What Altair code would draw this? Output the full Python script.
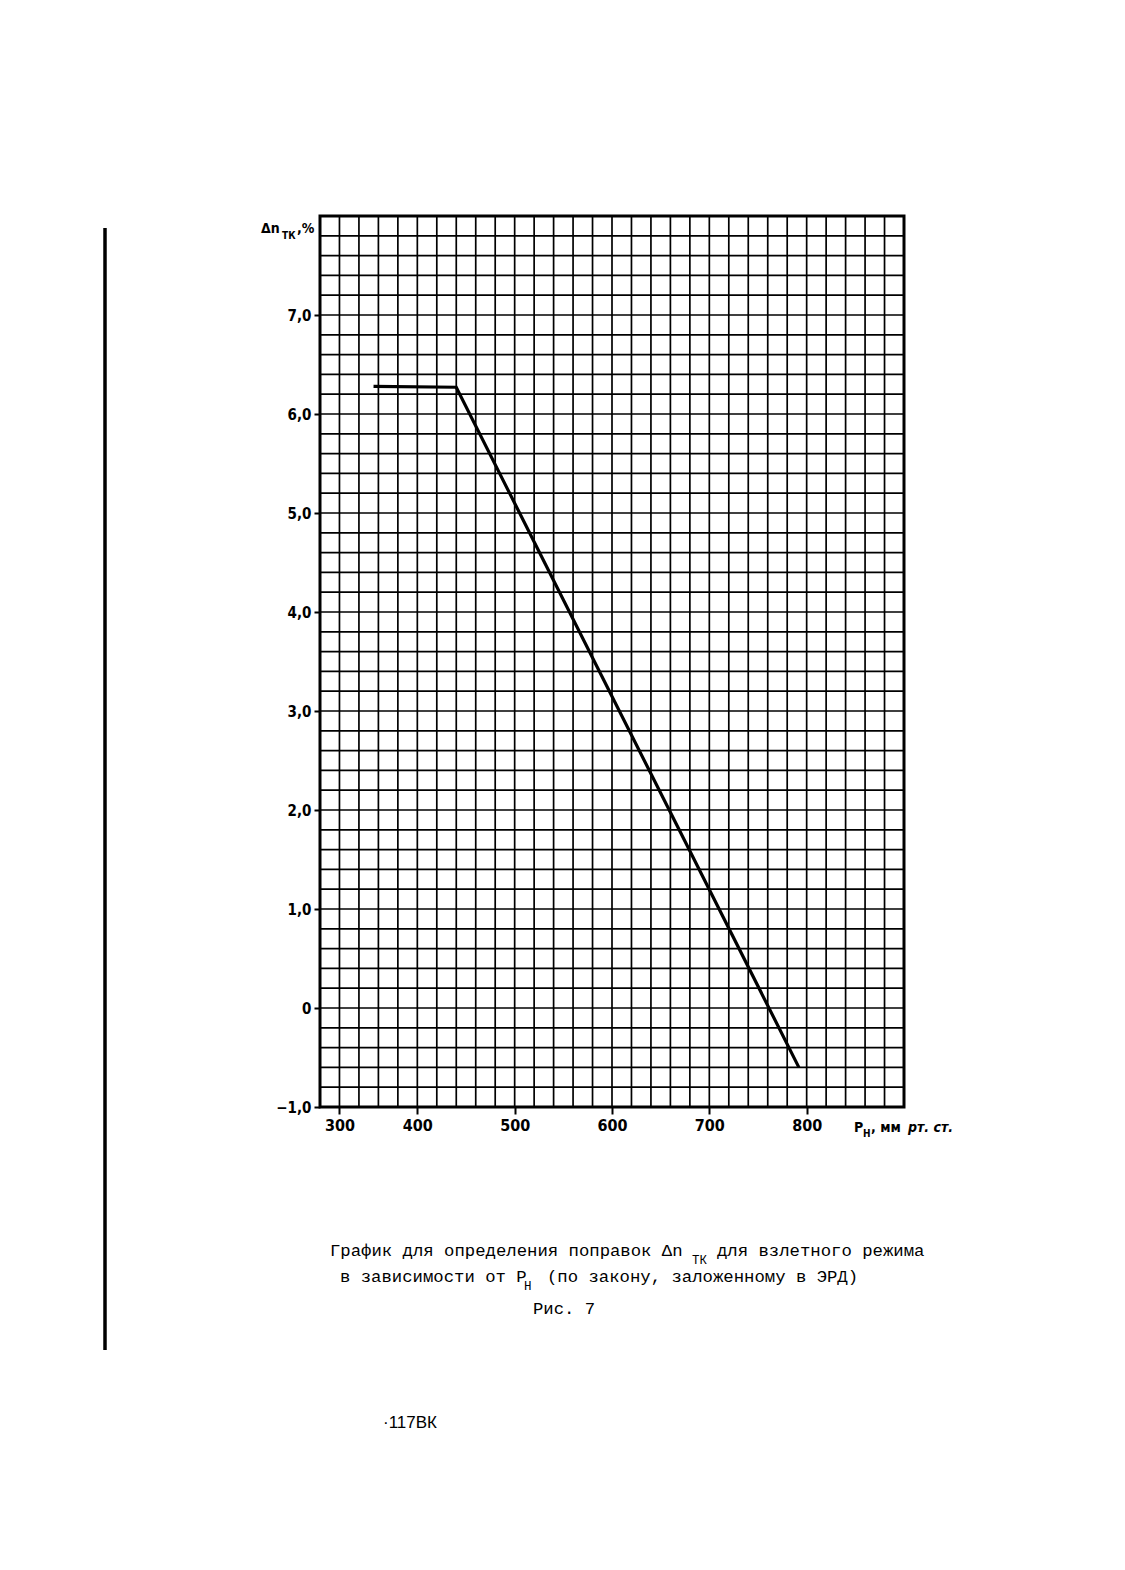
import altair as alt
import pandas as pd

# ---- data ----
line_x = [355, 440, 792]          # P_H, мм рт.ст.
line_y = [6.28, 6.27, -0.60]      # Δn_TK, %

grid_x = list(range(320, 900, 20))                       # vertical grid lines
grid_y = [round(-0.8 + 0.2 * i, 1) for i in range(44)]   # horizontal grid lines

x_tick_values = [320, 400, 500, 600, 700, 800]   # the "300" label sits on the first grid line
y_tick_values = [-1, 0, 1, 2, 3, 4, 5, 6, 7]

caption1a = "График для определения поправок Δn"
caption1s = "ТК"
caption1b = "для взлетного режима"
caption2a = "в зависимости от Р"
caption2s = "Н"
caption2b = "(по закону, заложенному в ЭРД)"
caption3 = "Рис. 7"
page_mark = "·117ВК"

# ---- chart ----
W, H = 584, 891
NARROW = "Liberation Sans Narrow, DejaVu Sans Condensed, Arial Narrow, sans-serif"
MONO = "Liberation Mono, DejaVu Sans Mono, monospace"

xs = alt.Scale(domain=[300, 900], nice=False, zero=False)
ys = alt.Scale(domain=[-1, 8], nice=False, zero=False)

x_axis = alt.Axis(values=x_tick_values,
                  labelExpr="datum.value == 320 ? '300' : format(datum.value, 'd')",
                  grid=False, domain=False, ticks=True, tickSize=7, tickWidth=2,
                  tickColor="black", labelColor="black", labelFont=NARROW,
                  labelFontSize=16, labelFontWeight="bold", labelPadding=3,
                  labelFlush=False, labelOverlap=False, title=None)
y_axis = alt.Axis(values=y_tick_values,
                  labelExpr="datum.value == 0 ? '0' : replace(format(datum.value, '.1f'), '.', ',')",
                  grid=False, domain=False, ticks=True, tickSize=6, tickWidth=2,
                  tickColor="black", labelColor="black", labelFont=NARROW,
                  labelFontSize=15, labelFontWeight="bold", labelPadding=3,
                  labelFlush=False, labelOverlap=False, title=None)

line_df = pd.DataFrame({"x": line_x, "y": line_y})
gx_df = pd.DataFrame({"gx": grid_x})
gy_df = pd.DataFrame({"gy": grid_y})
one = pd.DataFrame({"k": [0]})

vgrid = alt.Chart(gx_df).mark_rule(color="black", strokeWidth=1.7).encode(
    x=alt.X("gx:Q", scale=xs, axis=x_axis))
hgrid = alt.Chart(gy_df).mark_rule(color="black", strokeWidth=1.7).encode(
    y=alt.Y("gy:Q", scale=ys, axis=y_axis))
curve = alt.Chart(line_df).mark_line(color="black", strokeWidth=3.2).encode(
    x=alt.X("x:Q", scale=xs, axis=x_axis),
    y=alt.Y("y:Q", scale=ys, axis=y_axis))


def txt(s, x, y, size, font, weight="normal", style="normal"):
    return alt.Chart(one).mark_text(
        text=s, font=font, fontSize=size, fontWeight=weight, fontStyle=style,
        align="left", baseline="alphabetic", color="black"
    ).encode(x=alt.value(x), y=alt.value(y))


bar = alt.Chart(one).mark_rule(color="black", strokeWidth=3.5).encode(
    x=alt.value(-215), y=alt.value(12), y2=alt.value(1134))

texts = [
    # y-axis title
    txt("Δn", -59, 17, 14, NARROW, "bold"),
    txt("ТК", -38, 23, 10, NARROW, "bold"),
    txt(",%", -23, 17, 14, NARROW, "bold"),
    # x-axis title
    txt("P", 534, 916, 14, NARROW, "bold"),
    txt("Н", 543, 921, 10, NARROW, "bold"),
    txt(", мм", 551, 916, 14, NARROW, "bold"),
    txt("рт. ст.", 588, 916, 14, NARROW, "bold", "italic"),
    # caption
    txt(caption1a, 10, 1040, 17.3, MONO),
    txt(caption1s, 372, 1048, 12.5, MONO),
    txt(caption1b, 397, 1040, 17.3, MONO),
    txt(caption2a, 20, 1066, 17.3, MONO),
    txt(caption2s, 204, 1074, 12.5, MONO),
    txt(caption2b, 227, 1066, 17.3, MONO),
    txt(caption3, 213, 1098, 17.3, MONO),
    # page mark
    txt(page_mark, 63, 1212, 17, "Liberation Sans, Arial, sans-serif"),
]

chart = alt.layer(vgrid, hgrid, curve, bar, *texts).properties(
    width=W, height=H,
    autosize=alt.AutoSizeParams(type="none"),
    padding={"left": 312, "top": 208, "right": 200, "bottom": 441},
    background="white",
).configure_view(stroke="black", strokeWidth=3)

chart.save("out.html", embed_options={"renderer": "svg", "actions": False})
